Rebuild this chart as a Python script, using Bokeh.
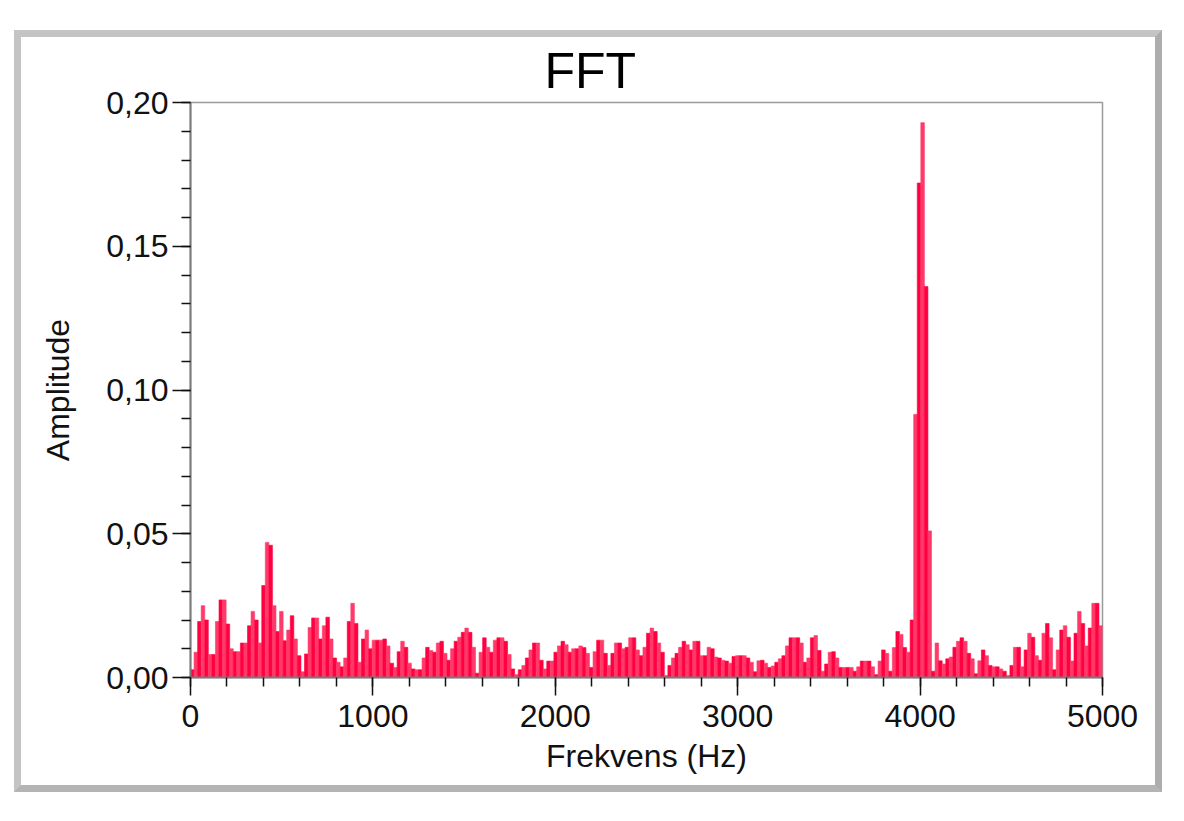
from bokeh.plotting import figure
from bokeh.models import FixedTicker, Range1d
from bokeh.embed import file_html
from bokeh.resources import INLINE

# FFT amplitude per frequency bin (10 kHz sample rate, 512 points -> 256 bins up to 5000 Hz)
sample_rate = 10000
n_points = 512

amp_low = [
    0.0027, 0.0088, 0.0195, 0.025, 0.020, 0.008, 0.008, 0.0195, 0.027, 0.027,
    0.0186, 0.010, 0.009, 0.009, 0.012, 0.012, 0.018, 0.023, 0.020, 0.012,
    0.032, 0.047, 0.046, 0.025, 0.016, 0.023, 0.0128, 0.0165, 0.0215, 0.0134,
    0.0076, 0.002, 0.0082, 0.0174, 0.0207, 0.0207, 0.0134, 0.018, 0.021, 0.0134,
    0.0068, 0.0053, 0.0037, 0.0068, 0.0195, 0.0258, 0.0188, 0.0053, 0.0134, 0.0165,
    0.010, 0.013, 0.013, 0.013,
]
amp_mid1 = [
    0.0134, 0.011, 0.005, 0.0035, 0.009, 0.0126, 0.0105, 0.005, 0.003, 0.0027,
    0.0027, 0.0068, 0.0105, 0.0094, 0.0088, 0.012, 0.0126, 0.0084, 0.006, 0.010,
    0.0126, 0.014, 0.0157, 0.0172, 0.0157, 0.0105, 0.0015, 0.0088, 0.0138, 0.0105,
    0.0088, 0.013, 0.0138, 0.0138, 0.0126, 0.008, 0.003, 0.001, 0.0027, 0.0042,
    0.0068, 0.0096, 0.012, 0.012, 0.006, 0.003, 0.0057, 0.0057, 0.0088, 0.011,
    0.0126, 0.0114, 0.0088, 0.010, 0.010,
]
amp_mid2 = [
    0.011, 0.0104, 0.0084, 0.0035, 0.009, 0.013, 0.013, 0.0084, 0.0042, 0.0084,
    0.012, 0.012, 0.010, 0.0105, 0.0138, 0.0138, 0.0096, 0.0076, 0.0105, 0.0154,
    0.0172, 0.016, 0.012, 0.0088, 0.0007, 0.0042, 0.0068, 0.0084, 0.0105, 0.0126,
    0.0114, 0.0096, 0.0126, 0.0126, 0.0076, 0.0076, 0.0105, 0.010, 0.0071, 0.0068,
    0.006, 0.0057, 0.005, 0.0073, 0.0076, 0.0076, 0.0076, 0.0068, 0.0053, 0.002,
    0.0058, 0.006, 0.005, 0.0035, 0.004,
]
amp_peak = [
    0.0053, 0.0065, 0.0076, 0.011, 0.0138, 0.0138, 0.0138, 0.012, 0.0053, 0.0068,
    0.0138, 0.0146, 0.0094, 0.0022, 0.0047, 0.0088, 0.009, 0.0068, 0.0035, 0.0035,
    0.0035, 0.0035, 0.0022, 0.0037, 0.0057, 0.0057, 0.0057, 0.0037, 0.001, 0.0057,
    0.0096, 0.0084, 0.0022, 0.0104, 0.016, 0.015, 0.0104, 0.0088, 0.020, 0.0915,
    0.172, 0.193, 0.136, 0.051, 0.0022, 0.012, 0.0058, 0.0047, 0.0065, 0.0071,
    0.0105, 0.0126, 0.0138, 0.0126, 0.0084,
]
amp_high = [
    0.0065, 0.0013, 0.0058, 0.0096, 0.0076, 0.0042, 0.0037, 0.0037, 0.003, 0.0022,
    0.0007, 0.0042, 0.0105, 0.0105, 0.0037, 0.0096, 0.0154, 0.014, 0.0076, 0.006,
    0.0154, 0.0188, 0.0138, 0.0027, 0.0096, 0.0165, 0.018, 0.014, 0.0057, 0.0154,
    0.023, 0.0188, 0.011, 0.0172, 0.0258, 0.0258, 0.018,
]
amplitude = amp_low + amp_mid1 + amp_mid2 + amp_peak + amp_high

bin_width = sample_rate / n_points
freq_left = [i * bin_width for i in range(len(amplitude))]
freq_right = [f + bin_width for f in freq_left]

x_ticks = [0, 1000, 2000, 3000, 4000, 5000]
x_tick_labels = ["0", "1000", "2000", "3000", "4000", "5000"]
x_minor_ticks = list(range(0, 5001, 200))
y_ticks = [0.0, 0.05, 0.10, 0.15, 0.20]
y_tick_labels = ["0,00", "0,05", "0,10", "0,15", "0,20"]
y_minor_ticks = [round(i * 0.01, 2) for i in range(21)]

bar_colors = ["#ff0040" if i % 2 == 0 else "#ff3a6a" for i in range(len(amplitude))]

FONT = "Liberation Sans"

p = figure(
    width=1148, height=762,
    x_range=Range1d(0, 5000), y_range=Range1d(0, 0.2),
    output_backend="svg", toolbar_location=None,
    min_border_left=169, min_border_right=67,
    min_border_top=63, min_border_bottom=122,
    title="FFT",
)
p.margin = (30, 0, 0, 14)
p.styles = {"border": "7px solid #c4c4c4",
            "border-color": "#c4c4c4 #adadad #b4b4b4 #c4c4c4"}

p.title.text_font = FONT
p.title.text_font_size = "50px"
p.title.text_font_style = "normal"
p.title.text_color = "#000000"
p.title.align = "left"
p.title.offset = 354
p.title.standoff = 7

p.quad(left=freq_left, right=freq_right, bottom=0, top=amplitude,
       fill_color=bar_colors, line_color=bar_colors, line_width=0.6)

p.xgrid.visible = False
p.ygrid.visible = False
p.outline_line_color = "#9a9a9a"
p.outline_line_width = 1.5
p.background_fill_color = "white"
p.border_fill_color = "white"

for ax in (p.xaxis[0], p.yaxis[0]):
    ax.axis_line_color = "#7a7a7a"
    ax.axis_line_width = 2
    ax.major_tick_line_color = "#111111"
    ax.minor_tick_line_color = "#111111"
    ax.major_tick_line_width = 1.5
    ax.minor_tick_line_width = 1.5
    ax.major_tick_in = 0
    ax.minor_tick_in = 0
    ax.major_tick_out = 18
    ax.minor_tick_out = 9
    ax.major_label_text_font = FONT
    ax.major_label_text_font_size = "32px"
    ax.major_label_text_color = "#111111"
    ax.axis_label_text_font = FONT
    ax.axis_label_text_font_size = "32px"
    ax.axis_label_text_font_style = "normal"
    ax.axis_label_text_color = "#111111"

p.xaxis.ticker = FixedTicker(ticks=x_ticks, minor_ticks=x_minor_ticks)
p.xaxis.major_label_overrides = dict(zip(x_ticks, x_tick_labels))
p.xaxis.axis_label = "Frekvens (Hz)"
p.xaxis.major_label_standoff = 9
p.xaxis.axis_label_standoff = 8

p.yaxis.ticker = FixedTicker(ticks=y_ticks, minor_ticks=y_minor_ticks)
p.yaxis.major_label_overrides = dict(zip(y_ticks, y_tick_labels))
p.yaxis.axis_label = "Amplitude"
p.yaxis.major_label_standoff = 4
p.yaxis.axis_label_standoff = 27

open("out.html", "w").write(file_html(p, INLINE))
